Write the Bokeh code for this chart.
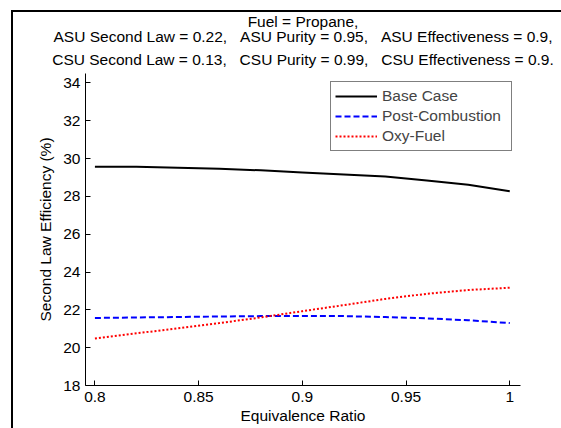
from bokeh.plotting import figure
from bokeh.models import Title, Legend, LegendItem, FixedTicker, NumeralTickFormatter, GlobalInlineStyleSheet
from bokeh.embed import file_html
from bokeh.resources import INLINE

# ---- data ----
equivalence_ratio = [0.80, 0.82, 0.84, 0.86, 0.88, 0.90, 0.92, 0.94, 0.96, 0.98, 1.00]
base_case = [29.57, 29.57, 29.52, 29.46, 29.38, 29.27, 29.16, 29.05, 28.84, 28.62, 28.27]
post_combustion = [21.57, 21.60, 21.62, 21.65, 21.67, 21.68, 21.67, 21.62, 21.55, 21.45, 21.30]
oxy_fuel = [20.48, 20.76, 21.02, 21.30, 21.60, 21.93, 22.25, 22.58, 22.85, 23.05, 23.17]

x_ticks = [0.8, 0.85, 0.9, 0.95, 1.0]
y_ticks = [18, 20, 22, 24, 26, 28, 30, 32, 34]

GAP = "\u00a0" * 3
title_lines = [
    "Fuel = Propane,",
    "ASU Second Law = 0.22," + GAP + "ASU Purity = 0.95," + GAP + "ASU Effectiveness = 0.9,",
    "CSU Second Law = 0.13," + GAP + "CSU Purity = 0.99," + GAP + "CSU Effectiveness = 0.9.",
]
series_names = ["Base Case", "Post-Combustion", "Oxy-Fuel"]

FONT = "Liberation Sans"
FS = "15.5px"

p = figure(width=561, height=428, output_backend="svg", toolbar_location=None,
           x_range=(0.79546, 1.00517), y_range=(18, 34.5),
           min_border_left=85, min_border_right=41, min_border_top=73, min_border_bottom=43)
p.stylesheets = [GlobalInlineStyleSheet(css=(
    "body::after{content:'';position:fixed;left:11px;top:10px;right:-20px;bottom:-20px;"
    "border-left:2px solid #000;border-top:2px solid #000;pointer-events:none;z-index:5;}"))]
p.outline_line_color = None
p.grid.visible = False
p.background_fill_color = "white"
p.border_fill_color = "white"

# titles: innermost (bottom line) added first, all centred over the axes
standoffs = [-4, -4, 12]
for line, so in reversed(list(zip(title_lines, standoffs))):
    p.add_layout(Title(text=line, align="center", standoff=so,
                       text_font=FONT, text_font_size=FS, text_font_style="normal",
                       text_color="black"), "above")

r_base = p.line(equivalence_ratio, base_case, line_color="black", line_width=2)
r_post = p.line(equivalence_ratio, post_combustion, line_color="#0000ff", line_width=2, line_dash="6 3")
r_oxy = p.line(equivalence_ratio, oxy_fuel, line_color="#ff0000", line_width=2, line_dash="2 2")

for ax in (p.xaxis[0], p.yaxis[0]):
    ax.axis_line_color = "black"
    ax.major_tick_line_color = "black"
    ax.major_tick_in = 5
    ax.major_tick_out = 0
    ax.minor_tick_line_color = None
    ax.major_label_text_font = FONT
    ax.major_label_text_font_size = FS
    ax.major_label_text_color = "black"
    ax.axis_label_text_font = FONT
    ax.axis_label_text_font_size = FS
    ax.axis_label_text_font_style = "normal"
    ax.axis_label_text_color = "black"

p.xaxis.ticker = FixedTicker(ticks=x_ticks)
p.xaxis.formatter = NumeralTickFormatter(format="0.[00]")
p.yaxis.ticker = FixedTicker(ticks=y_ticks)
p.xaxis.axis_label = "Equivalence Ratio"
p.yaxis.axis_label = "Second Law Efficiency (%)"
p.xaxis.major_label_standoff = 6
p.yaxis.major_label_standoff = 5
p.xaxis.axis_label_standoff = 2
p.yaxis.axis_label_standoff = 6

legend = Legend(items=[LegendItem(label=n, renderers=[r]) for n, r in zip(series_names, [r_base, r_post, r_oxy])],
                location="top_right", margin=8, padding=4, spacing=0,
                label_height=20, label_width=125, glyph_height=20, glyph_width=42, label_standoff=5,
                label_text_font=FONT, label_text_font_size=FS,
                border_line_color="black", border_line_width=1,
                background_fill_color="white", background_fill_alpha=1)
p.add_layout(legend)

open("out.html", "w").write(file_html(p, INLINE))
